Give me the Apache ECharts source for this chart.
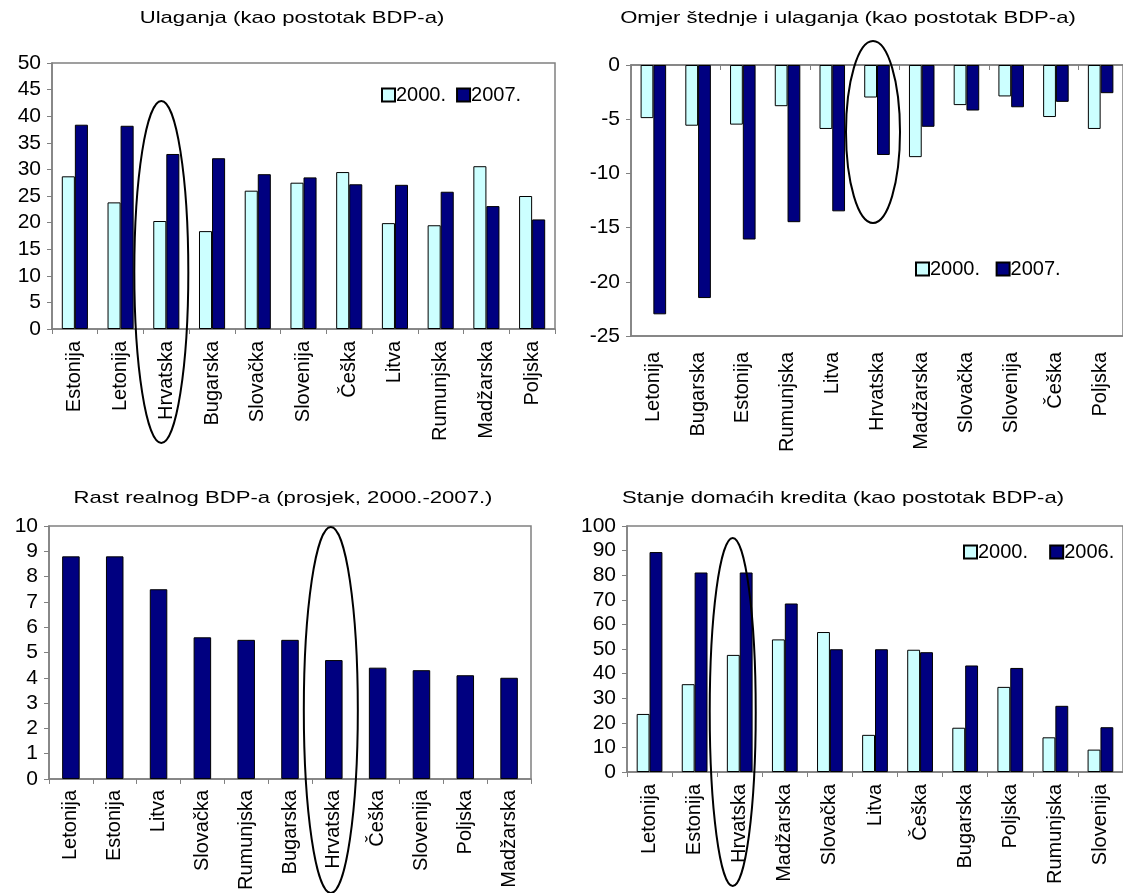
<!DOCTYPE html>
<html>
<head>
<meta charset="utf-8">
<script src="https://cdn.jsdelivr.net/npm/echarts@6/dist/echarts.min.js"></script>
<style>
  html, body { margin: 0; padding: 0; background: #fff; }
  #chart { width: 1123px; height: 893px; }
</style>
</head>
<body>
<div id="chart"></div>
<script>
// Ulaganja (kao postotak BDP-a)
const invCountries = ['Estonija', 'Letonija', 'Hrvatska', 'Bugarska', 'Slovačka', 'Slovenija', 'Češka', 'Litva', 'Rumunjska', 'Madžarska', 'Poljska'];
const inv2000 = [28.7, 23.8, 20.3, 18.4, 26.0, 27.5, 29.5, 19.9, 19.5, 30.6, 25.0];
const inv2007 = [38.4, 38.2, 32.9, 32.1, 29.1, 28.5, 27.2, 27.1, 25.8, 23.1, 20.6];

// Omjer štednje i ulaganja (kao postotak BDP-a)
const gapCountries = ['Letonija', 'Bugarska', 'Estonija', 'Rumunjska', 'Litva', 'Hrvatska', 'Madžarska', 'Slovačka', 'Slovenija', 'Češka', 'Poljska'];
const gap2000 = [-4.9, -5.6, -5.5, -3.8, -5.9, -3.0, -8.5, -3.7, -2.9, -4.8, -5.9];
const gap2007 = [-23.0, -21.5, -16.1, -14.5, -13.5, -8.3, -5.7, -4.2, -3.9, -3.4, -2.6];

// Rast realnog BDP-a (prosjek, 2000.-2007.)
const gdpCountries = ['Letonija', 'Estonija', 'Litva', 'Slovačka', 'Rumunjska', 'Bugarska', 'Hrvatska', 'Češka', 'Slovenija', 'Poljska', 'Madžarska'];
const gdpGrowth = [8.8, 8.8, 7.5, 5.6, 5.5, 5.5, 4.7, 4.4, 4.3, 4.1, 4.0];

// Stanje domaćih kredita (kao postotak BDP-a)
const credCountries = ['Letonija', 'Estonija', 'Hrvatska', 'Madžarska', 'Slovačka', 'Litva', 'Češka', 'Bugarska', 'Poljska', 'Rumunjska', 'Slovenija'];
const cred2000 = [23.6, 35.7, 47.6, 53.9, 56.9, 15.1, 49.7, 18.0, 34.6, 14.1, 9.1];
const cred2006 = [89.4, 81.1, 81.1, 68.5, 49.9, 49.9, 48.7, 43.3, 42.3, 26.9, 18.2];

const panelTitles = [
  'Ulaganja (kao postotak BDP-a)',
  'Omjer štednje i ulaganja (kao postotak BDP-a)',
  'Rast realnog BDP-a (prosjek, 2000.-2007.)',
  'Stanje domaćih kredita (kao postotak BDP-a)'
];

const FONT = '"Liberation Sans", Arial, sans-serif';
const LIGHT = '#CCFFFF';
const DARK = '#000080';
const GRAY = '#808080';

const chart = echarts.init(document.getElementById('chart'), null, { renderer: 'canvas' });

function catAxis(grid, data, margin, extra) {
  return Object.assign({
    type: 'category', gridIndex: grid, data: data, boundaryGap: true,
    axisLine: { show: true, onZero: false, lineStyle: { color: GRAY, width: 1.5 } },
    axisTick: { show: true, length: 5, lineStyle: { color: GRAY } },
    axisLabel: { rotate: 90, fontFamily: FONT, fontSize: 20, color: '#000', margin: margin },
    splitLine: { show: false }
  }, extra || {});
}
function valAxis(grid, min, max, step) {
  return {
    type: 'value', gridIndex: grid, min: min, max: max, interval: step,
    axisLine: { show: true, lineStyle: { color: GRAY, width: 1.5 } },
    axisTick: { show: true, length: 5, lineStyle: { color: GRAY } },
    axisLabel: { fontFamily: FONT, fontSize: 21, color: '#000', margin: 11 },
    splitLine: { show: false }
  };
}
function bar(name, grid, data, color, gapCat) {
  return {
    type: 'bar', name: name, xAxisIndex: grid, yAxisIndex: grid, data: data,
    barGap: '0%', barCategoryGap: gapCat,
    itemStyle: { color: color, borderColor: '#000', borderWidth: 1 },
    emphasis: { disabled: true }
  };
}
function legend(names, x, y) {
  return {
    data: names, left: x, top: y, orient: 'horizontal', icon: 'rect',
    itemWidth: 13, itemHeight: 13, itemGap: 10, padding: 0,
    selectedMode: false,
    textStyle: { fontFamily: FONT, fontSize: 20, color: '#000', padding: [0, 0, 0, -4] }
  };
}
// Panel heading, slightly widened like the original typesetting
function heading(text, cx, cy) {
  return {
    type: 'text', x: cx, y: cy, scaleX: 1.3, silent: true, z: 50,
    style: {
      text: text, x: 0, y: 0, fill: '#000',
      font: '17px ' + FONT, align: 'center', verticalAlign: 'middle',
      textAlign: 'center', textVerticalAlign: 'middle'
    }
  };
}

const gridBox = { show: true, borderColor: GRAY, borderWidth: 1.5, backgroundColor: '#fff' };

chart.setOption({
  animation: false,
  backgroundColor: '#fff',
  legend: [
    legend(['2000.', '2007.'], 381, 85),
    legend(['2000. ', '2007. '], 915, 259),
    legend(['2000.  ', '2006.'], 963, 542)
  ],
  grid: [
    Object.assign({ left: 52, top: 63, width: 503, height: 266 }, gridBox),
    Object.assign({ left: 631, top: 65, width: 498, height: 271 }, gridBox),
    Object.assign({ left: 49, top: 526, width: 482, height: 253 }, gridBox),
    Object.assign({ left: 627, top: 526, width: 505, height: 246 }, gridBox)
  ],
  xAxis: [
    catAxis(0, invCountries, 12),
    catAxis(1, gapCountries, 16, { axisTick: { show: false } }),
    catAxis(2, gdpCountries, 11),
    catAxis(3, credCountries, 12),
    // zero line with ticks for the savings-investment panel
    catAxis(1, gapCountries, 10, {
      axisLine: { show: true, onZero: true, onZeroAxisIndex: 1, lineStyle: { color: GRAY, width: 1.5 } },
      axisTick: { show: true, inside: true, length: 5, lineStyle: { color: GRAY } },
      axisLabel: { show: false }
    })
  ],
  yAxis: [
    valAxis(0, 0, 50, 5),
    valAxis(1, -25, 0, 5),
    valAxis(2, 0, 10, 1),
    valAxis(3, 0, 100, 10)
  ],
  series: [
    bar('2000.', 0, inv2000, LIGHT, '42.9%'),
    bar('2007.', 0, inv2007, DARK, '42.9%'),
    bar('2000. ', 1, gap2000, LIGHT, '42.9%'),
    bar('2007. ', 1, gap2007, DARK, '42.9%'),
    bar('BDP', 2, gdpGrowth, DARK, '60%'),
    bar('2000.  ', 3, cred2000, LIGHT, '42.9%'),
    bar('2006.', 3, cred2006, DARK, '42.9%')
  ]
});

// Ellipses highlighting Hrvatska in each panel (centre offset from the category, half-axes in px)
const rings = [
  { grid: 0, dx: -5, cy: 272, rx: 27, ry: 171 },
  { grid: 1, dx: -4, cy: 132, rx: 27, ry: 91 },
  { grid: 2, dx: -3, cy: 710, rx: 27, ry: 183 },
  { grid: 3, dx: -7, cy: 712, rx: 23, ry: 174 }
];
const ringShapes = rings.map(function (r) {
  const cx = chart.convertToPixel({ xAxisIndex: r.grid }, 'Hrvatska') + r.dx;
  return {
    type: 'ellipse', silent: true, z: 100,
    shape: { cx: cx, cy: r.cy, rx: r.rx, ry: r.ry },
    style: { fill: null, stroke: '#000', lineWidth: 2 }
  };
});
const headings = [
  heading(panelTitles[0], 292, 18),
  heading(panelTitles[1], 848, 18),
  heading(panelTitles[2], 283, 498),
  heading(panelTitles[3], 843, 498)
];
chart.setOption({ graphic: headings.concat(ringShapes) });
</script>
</body>
</html>
